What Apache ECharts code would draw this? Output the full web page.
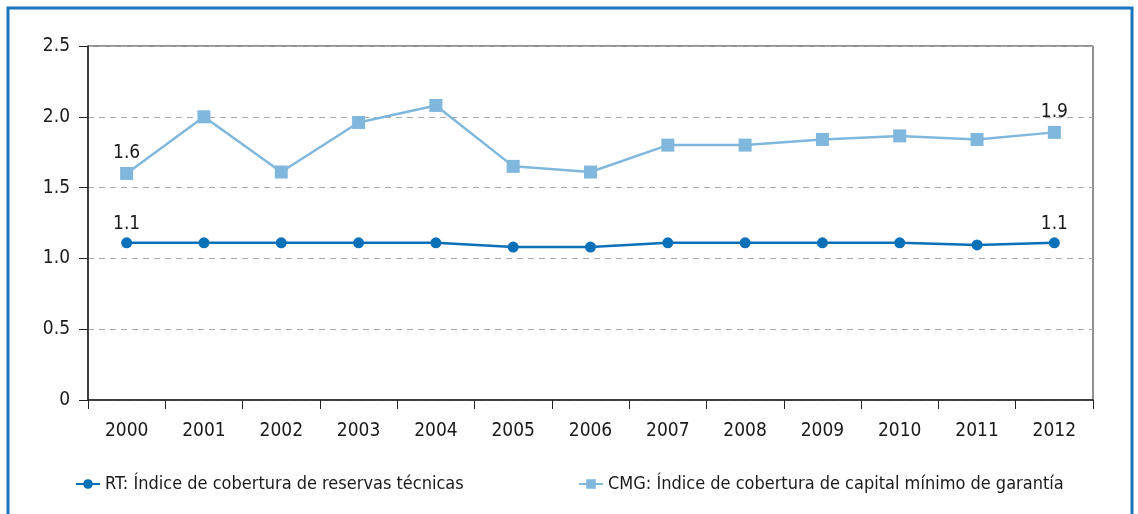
<!DOCTYPE html>
<html>
<head>
<meta charset="utf-8">
<script src="https://cdn.jsdelivr.net/npm/echarts@6/dist/echarts.min.js"></script>
<style>
  html, body { margin: 0; padding: 0; background: #fff; }
  #chart { width: 1138px; height: 514px; }
</style>
</head>
<body>
<div id="chart"></div>
<script type="text/javascript">
  var years = ['2000', '2001', '2002', '2003', '2004', '2005', '2006', '2007', '2008', '2009', '2010', '2011', '2012'];
  // RT: indice de cobertura de reservas tecnicas
  var rtValues = [1.11, 1.11, 1.11, 1.11, 1.11, 1.08, 1.08, 1.11, 1.11, 1.11, 1.11, 1.095, 1.11];
  // CMG: indice de cobertura de capital minimo de garantia
  var cmgValues = [1.6, 2.0, 1.61, 1.96, 2.08, 1.65, 1.61, 1.8, 1.8, 1.84, 1.865, 1.84, 1.89];
  var rtName = 'RT: Índice de cobertura de reservas técnicas';
  var cmgName = 'CMG: Índice de cobertura de capital mínimo de garantía';
  var yTicks = [0, 0.5, 1.0, 1.5, 2.0, 2.5];

  var font = '"DejaVu Sans Condensed", "Liberation Sans Narrow", sans-serif';
  var rtColor = '#0a70b8';
  var cmgColor = '#80b8dd';

  // solo se etiqueta el primer y el ultimo punto
  function withEndLabels(values) {
    return values.map(function (v, i) {
      var show = i === 0 || i === values.length - 1;
      return {
        value: v,
        label: { show: show, formatter: function (p) { return p.value.toFixed(1); } }
      };
    });
  }

  var myChart = echarts.init(document.getElementById('chart'));
  myChart.setOption({
    backgroundColor: '#fff',
    animation: false,
    textStyle: { fontFamily: font },
    graphic: [{
      type: 'rect',
      shape: { x: 8, y: 8, width: 1124, height: 530 },
      style: { fill: 'none', stroke: '#1b75bc', lineWidth: 3 },
      silent: true
    }],
    grid: {
      left: 88, right: 45, top: 46, bottom: 114,
      show: true, borderColor: '#222', borderWidth: 1, backgroundColor: 'transparent'
    },
    legend: [{
      data: [rtName],
      left: 70, top: 470,
      itemWidth: 24, itemHeight: 12, itemGap: 4,
      textStyle: { fontSize: 18, color: '#1a1a1a', fontFamily: font }
    }, {
      data: [cmgName],
      left: 573, top: 470,
      itemWidth: 24, itemHeight: 12,
      textStyle: { fontSize: 18, color: '#1a1a1a', fontFamily: font }
    }],
    xAxis: {
      type: 'category',
      data: years,
      boundaryGap: true,
      axisLine: { lineStyle: { color: '#222', width: 1.5 } },
      axisTick: { show: true, length: 9, lineStyle: { color: '#222' } },
      axisLabel: { fontSize: 19, color: '#1a1a1a', margin: 22 }
    },
    yAxis: {
      type: 'value',
      min: yTicks[0], max: yTicks[yTicks.length - 1], interval: 0.5,
      axisLine: { show: true, lineStyle: { color: '#222', width: 1.5 } },
      axisTick: { show: true, length: 9, lineStyle: { color: '#222' } },
      axisLabel: {
        fontSize: 19, color: '#1a1a1a', margin: 18,
        formatter: function (v) { return v === 0 ? '0' : v.toFixed(1); }
      },
      splitLine: { show: true, lineStyle: { color: '#aaa', type: [6, 5], width: 1 } }
    },
    series: [{
      name: rtName,
      type: 'line',
      data: withEndLabels(rtValues),
      symbol: 'circle',
      symbolSize: 11,
      lineStyle: { color: rtColor, width: 2.5 },
      itemStyle: { color: rtColor },
      label: { position: 'top', distance: 4, fontSize: 19, color: '#1a1a1a' }
    }, {
      name: cmgName,
      type: 'line',
      data: withEndLabels(cmgValues),
      symbol: 'rect',
      symbolSize: 13,
      lineStyle: { color: cmgColor, width: 2.5 },
      itemStyle: { color: cmgColor },
      label: { position: 'top', distance: 4, fontSize: 19, color: '#1a1a1a' }
    }]
  });
</script>
</body>
</html>
